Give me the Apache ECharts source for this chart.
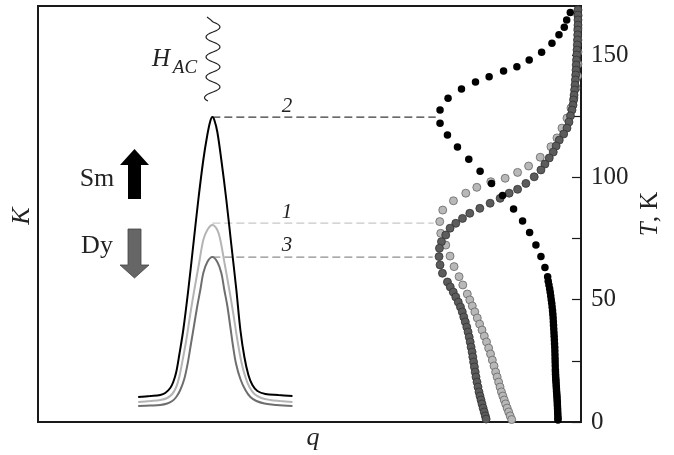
<!DOCTYPE html>
<html><head><meta charset="utf-8">
<script src="https://cdn.jsdelivr.net/npm/echarts@6/dist/echarts.min.js"></script>
<style>html,body{margin:0;padding:0;background:#fff}#c{width:674px;height:455px}</style>
</head><body><div id="c"></div>
<script>
// ---- data (q: arbitrary units, K: arbitrary units, T in kelvin) ----
const tTickValues = [0, 25, 50, 75, 100, 125, 150];
const tLabelValues = [0, 50, 100, 150];

// susceptibility-like peaks K(q)
const kCurve2 = [[100,25],[112,26],[122,27],[127,29],[132,34],[135,40],[138,50],[141,67],[145,92],[150,132],[155,177],[160,222],[165,262],[169,287],[172,301],[174,305],[176,302],[179,290],[183,262],[188,222],[193,177],[198,132],[202,92],[206,65],[210,47],[214,37],[219,31],[227,28],[240,27],[254,26]];
const kCurve1 = [[100,20],[112,21],[122,22],[129,24],[134,28],[138,35],[141,45],[144,60],[148,82],[152,108],[156,132],[161,160],[165,182],[169,192],[174,197],[179,192],[182,182],[186,160],[191,132],[195,108],[199,82],[203,60],[207,45],[211,35],[216,28],[223,24],[232,22],[242,21],[254,20]];
const kCurve3 = [[100,16],[112,16.5],[122,17],[129,18.5],[134,21],[138,25],[142,32],[146,43],[149.5,59],[152.5,77],[155.5,95],[159,116],[162,132],[165,149],[169,160],[174,165],[179,160],[183,149],[186,132],[189,116],[192,95],[194.5,77],[197.5,59],[202,43],[207,32],[212,25],[218,21],[226,18.5],[238,17],[254,16]];

// dashed guides (q, T)
const guide2 = [[174,124.6],[397,124.6]];
const guide1 = [[174,81.3],[395,81.3]];
const guide3 = [[174,67.4],[394,67.4]];

// temperature dependences (q, T)
const dotsBlack = [[531.3,167.3],[527.7,164.3],[525.3,161.3],[520,158.3],[513,154.8],[502.7,151.1],[490.3,147.9],[478,145.2],[464.7,143.4],[450.3,141.1],[436.7,138.9],[422.7,136.1],[409.3,132.3],[401.3,127.5],[401.3,122.1],[408.7,117.3],[418.7,112.4],[430,107.4],[441.3,102.5],[452.7,97.5],[463.7,92.6],[474.7,87.0],[483.7,82.1],[490.7,77.4],[497,72.3],[502,67.6],[506,63.1],[508.7,59.4],
[509.3,57.5],[510,56],[510.7,54.5],[511.3,53],[511.8,51.5],[512.3,50],[512.8,48.5],[513.2,47],[513.6,45.5],[513.9,44],[514.2,42.5],[514.4,41],[514.6,39.5],[514.8,38],[515,36.5],[515.2,35],[515.4,33.5],[515.6,32],[515.8,30.5],[515.9,29],[516,27.5],[516.1,26],[516.2,24.5],[516.3,23],[516.4,21.5],
[516.5,20.5],[516.6,19.5],[516.7,18.5],[516.9,17.5],[517,16.5],[517.2,15.5],[517.3,14.5],[517.5,13.5],[517.6,12.5],[517.8,11.5],[518,10.5],[518.1,9.5],[518.3,8.5],[518.4,7.5],[518.5,6.5],[518.6,5.5],[518.7,4.5],[518.8,3.5],[518.9,2.5],[519,1.5],[519,0.8]];
const dotsDark = [[539,168.4],[539,166.3],[539,164.3],[539,162.2],[538.8,160.2],[538.7,158.2],[538.5,156.1],[538.3,154.1],[538,152.0],[537.8,150.0],[537.5,147.9],[537.2,145.9],[537,143.8],[536.7,141.8],[536.4,139.8],[536,137.7],[535.6,135.7],[535.1,133.6],[534.6,131.6],[534,129.5],[533,127.5],[531.5,125.1],[530,122.6],[528,120.1],[524.7,117.7],[520.3,115.2],[517.2,112.8],[514.3,110.3],[510.3,107.9],[506,105.4],[502,103.0],[495.3,100.2],[487,97.5],[478.7,95.1],[470.3,93.5],[461.3,91.4],[451.3,89.4],[441,87.3],[431,85.3],[423.7,83.2],[417,81.2],[411.3,79.2],[407,76.4],[402.7,73.7],[400.7,71.0],[400.3,67.6],[401.3,64.2],[403.7,60.8],[408.7,57.2],[411.5,55.2],[414.5,53.1],[417,51.1],[419.5,49.0],[421.7,47.0],[423.5,45.0],[425,42.9],[426.5,40.9],[428,38.8],[429.3,36.8],[430.4,34.7],[431.4,32.7],[432.3,30.6],[433.3,28.6],[434,26.6],[434.8,24.5],[435.6,22.5],[436.4,20.4],[437.2,18.4],[438.2,16.3],[439.2,14.3],[440.2,12.3],[441.2,10.6],[442.2,9.0],[443.2,7.4],[444.3,5.7],[445.4,4.1],[446.5,2.5],[447.3,1.2]];
const dotsLight = [[539,165.9],[539,161.0],[539,156.1],[539,151.2],[539,146.3],[538.5,141.4],[537,136.5],[535,132.4],[532,128.3],[528,124.2],[523,120.1],[518,116.1],[512,112.5],[501.3,108.2],[489.7,104.6],[478.7,102.0],[466.3,99.6],[452,98.2],[438,95.9],[427,93.5],[414.7,90.4],[404,86.6],[401,81.9],[402,77.1],[407,72.3],[411.3,67.8],[415.3,63.5],[420.3,59.4],[424,56.0],[428.5,52.3],[431,49.9],[433.5,47.4],[436,45.0],[438.5,42.5],[440.8,40.0],[443.2,37.6],[445.5,35.1],[447.7,32.7],[449.8,30.2],[451.7,27.8],[453.5,25.3],[455.2,22.9],[456.8,20.4],[458.3,18.4],[459.8,16.3],[461.2,14.3],[462.6,12.3],[464,10.6],[465.4,9.0],[466.8,7.4],[468.3,5.7],[469.8,4.1],[471.3,2.5],[472.8,1.0]];

const SERIF = '"Liberation Serif","DejaVu Serif",serif';
const chart = echarts.init(document.getElementById('c'));

function dash(data, color){
  return {type:'line', yAxisIndex:1, data, showSymbol:false, silent:true, z:1,
    lineStyle:{color, width:1.2, type:[8,4]}};
}
function curve(data, color){
  return {type:'line', yAxisIndex:0, data, showSymbol:false, smooth:0.35, silent:true, z:2,
    lineStyle:{color, width:2}};
}
function dots(data, fill, border, size, bw){
  return {type:'scatter', yAxisIndex:1, data, symbolSize:size, silent:true, z:3,
    itemStyle:{color:fill, borderColor:border, borderWidth:bw, opacity:1}};
}
function txt(x, y, text, font, extra){
  return Object.assign({type:'text', x, y, style:{text, font, fill:'#222',
    align:'center', verticalAlign:'middle', textAlign:'center', textVerticalAlign:'middle'}}, extra||{});
}
// wavy H_AC symbol as quadratic bezier segments
const waveSegs = [];
(function(){
  let y = 22;
  waveSegs.push({type:'bezierCurve', shape:{x1:207, y1:17, x2:213, y2:22, cpx1:210, cpy1:19}, style:{stroke:'#222', lineWidth:1.2, fill:null}});
  let side = 1;
  while (y < 92) {
    waveSegs.push({type:'bezierCurve', shape:{x1:213, y1:y, x2:213, y2:y+10, cpx1:213+14*side, cpy1:y+5}, style:{stroke:'#222', lineWidth:1.2, fill:null}});
    y += 10; side = -side;
  }
  waveSegs.push({type:'bezierCurve', shape:{x1:213, y1:92, x2:208, y2:101, cpx1:199, cpy1:97}, style:{stroke:'#222', lineWidth:1.2, fill:null}});
})();

chart.setOption({
  animation:false,
  grid:{left:38, right:93, top:6, bottom:33, show:true, borderColor:'#1a1a1a', borderWidth:2, backgroundColor:'transparent'},
  xAxis:{type:'value', min:0, max:542, show:false},
  yAxis:[
    {type:'value', min:0, max:416, show:false},
    {type:'value', min:0, max:170, position:'right',
      axisLine:{show:true, onZero:false, lineStyle:{color:'#1a1a1a', width:2}},
      axisTick:{show:true, inside:true, length:9, customValues:tTickValues, lineStyle:{color:'#1a1a1a', width:1.2}},
      axisLabel:{show:true, customValues:tLabelValues, margin:10, color:'#222', fontSize:25, fontFamily:SERIF},
      splitLine:{show:false}}
  ],
  series:[
    dash(guide2, '#3a3a3a'), dash(guide1, '#c8c8c8'), dash(guide3, '#8e8e8e'),
    curve(kCurve3, '#6e6e6e'), curve(kCurve1, '#b4b4b4'), curve(kCurve2, '#000'),
    dots(dotsLight, '#b8b8b8', '#666', 8, 0.8),
    dots(dotsDark, '#5c5c5c', '#333', 8, 0.8),
    dots(dotsBlack, '#000', '#000', 7.5, 0)
  ],
  graphic:[
    txt(22, 216, 'K', 'italic 26px '+SERIF, {rotation:Math.PI/2}),
    txt(313, 438, 'q', 'italic 26px '+SERIF),
    {type:'text', x:650, y:214, rotation:Math.PI/2, style:{text:'{i|T}{n|, K}', fill:'#222',
      align:'center', verticalAlign:'middle', textAlign:'center', textVerticalAlign:'middle',
      rich:{i:{fontStyle:'italic', fontSize:25, fontFamily:SERIF, fill:'#222', color:'#222'}, n:{fontSize:25, fontFamily:SERIF, fill:'#222', color:'#222'}}}},
    txt(161, 59, 'H', 'italic 25px '+SERIF),
    txt(185, 68, 'AC', 'italic 19px '+SERIF),
    txt(97, 179, 'Sm', '26px '+SERIF),
    txt(97, 246, 'Dy', '26px '+SERIF),
    txt(287, 106, '2', 'italic 21px '+SERIF),
    txt(287, 212, '1', 'italic 21px '+SERIF),
    txt(287, 245, '3', 'italic 21px '+SERIF),
    {type:'group', children:waveSegs},
    {type:'polygon', shape:{points:[[120,165],[134.5,149],[149,165],[141,165],[141,199],[128,199],[128,165]]}, style:{fill:'#000'}},
    {type:'polygon', shape:{points:[[128,229],[141,229],[141,265],[149,265],[134.5,278],[120,265],[128,265]]}, style:{fill:'#666', stroke:'#444', lineWidth:0.8}}
  ]
});
</script></body></html>
